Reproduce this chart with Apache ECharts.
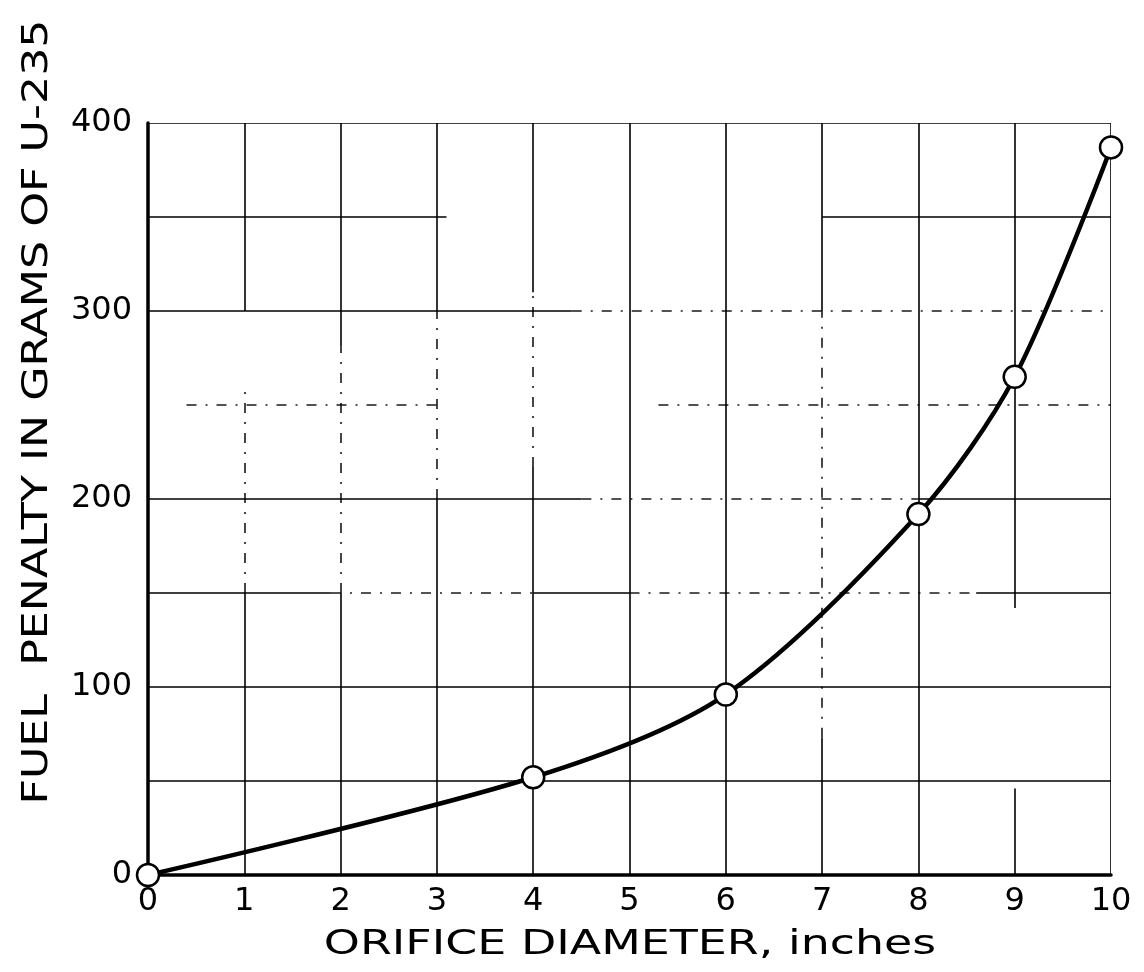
<!DOCTYPE html>
<html>
<head>
<meta charset="utf-8">
<style>
  html, body { margin: 0; padding: 0; background: #fff; }
  #chart { width: 1144px; height: 972px; }
</style>
<script src="https://cdn.jsdelivr.net/npm/echarts@6/dist/echarts.min.js"></script>
</head>
<body>
<div id="chart"></div>
<script>
// Orifice diameter (inches) and the matching fuel penalty (grams of U-235)
const diameters = [0, 4, 6, 8, 9, 10];
const penalties = [0, 52, 96, 192, 265, 387];

const xTicks = [0, 1, 2, 3, 4, 5, 6, 7, 8, 9, 10];
const yTickLabels = [0, 100, 200, 300, 400];

// Ruled grid, as drawn on the worn sheet: [value, from, to, kind]
// kind 's' = solid ink, 'd' = broken / faded ink
const verticalRules = [
  [1, 300, 400, 's'], [1, 150, 260, 'd'], [1, 0, 150, 's'],
  [2, 281, 400, 's'], [2, 150, 281, 'd'], [2, 0, 150, 's'],
  [3, 300, 400, 's'], [3, 200, 300, 'd'], [3, 0, 200, 's'],
  [4, 310, 400, 's'], [4, 217, 310, 'd'], [4, 0, 217, 's'],
  [5, 0, 400, 's'],
  [6, 0, 400, 's'],
  [7, 300, 400, 's'], [7, 73, 300, 'd'], [7, 0, 73, 's'],
  [8, 0, 400, 's'],
  [9, 142, 400, 's'], [9, 0, 46, 's'],
  [10, 0, 400, 's']
];
const horizontalRules = [
  [400, 0, 10, 's'],
  [350, 0, 3.1, 's'], [350, 7, 10, 's'],
  [300, 0, 4.4, 's'], [300, 4.4, 10, 'd'],
  [250, 0.4, 3, 'd'], [250, 5.3, 10, 'd'],
  [200, 0, 4.5, 's'], [200, 4.5, 8, 'd'], [200, 8, 10, 's'],
  [150, 0, 1.9, 's'], [150, 1.9, 4, 'd'], [150, 4, 5, 's'], [150, 5, 8.6, 'd'], [150, 8.6, 10, 's'],
  [100, 0, 10, 's'],
  [50, 0, 10, 's']
];

const font = '"DejaVu Sans", sans-serif';
const ink = '#000';

const ruleItem = (coords, kind) => ({
  coords,
  lineStyle: kind === 's'
    ? { color: ink, width: 1.6, type: 'solid', opacity: 1 }
    : { color: ink, width: 1.6, type: [10, 9, 2, 9], opacity: 0.9 }
});
const ruleData = [
  ...verticalRules.map(([x, a, b, k]) => ruleItem([[x, a], [x, b]], k)),
  ...horizontalRules.map(([y, a, b, k]) => ruleItem([[a, y], [b, y]], k))
];

const chart = echarts.init(document.getElementById('chart'), null, { renderer: 'canvas' });

chart.setOption({
  backgroundColor: '#fff',
  animation: false,
  grid: { left: 148, right: 33, top: 123, bottom: 97, containLabel: false },
  xAxis: {
    type: 'value',
    min: xTicks[0],
    max: xTicks[xTicks.length - 1],
    interval: 1,
    axisLine: { show: true, onZero: false, lineStyle: { color: ink, width: 3.5 } },
    axisTick: { show: false },
    axisLabel: {
      fontFamily: font, fontSize: 32, color: ink, margin: 11,
      formatter: v => xTicks.includes(v) ? String(v) : ''
    },
    splitLine: { show: false }
  },
  yAxis: {
    type: 'value',
    min: 0,
    max: 400,
    interval: 50,
    axisLine: { show: true, lineStyle: { color: ink, width: 3.5 } },
    axisTick: { show: false },
    axisLabel: {
      fontFamily: font, fontSize: 32, color: ink, margin: 16,
      formatter: v => yTickLabels.includes(v) ? String(v) : ''
    },
    splitLine: { show: false }
  },
  graphic: [
    {
      type: 'text',
      x: 38,
      y: 412,
      rotation: Math.PI / 2,
      scaleX: 1.23,
      style: {
        text: 'FUEL  PENALTY IN GRAMS OF U-235',
        font: '36px ' + font,
        fill: ink,
        align: 'center',
        verticalAlign: 'middle'
      }
    },
    {
      type: 'text',
      x: 630,
      y: 945,
      scaleX: 1.35,
      style: {
        text: 'ORIFICE DIAMETER, inches',
        font: '34px ' + font,
        fill: ink,
        align: 'center',
        verticalAlign: 'middle'
      }
    }
  ],
  series: [
    {
      type: 'lines',
      coordinateSystem: 'cartesian2d',
      silent: true,
      z: 1,
      data: ruleData
    },
    {
      type: 'line',
      data: diameters.map((d, i) => [d, penalties[i]]),
      smooth: 0.3,
      symbol: 'circle',
      symbolSize: 22,
      lineStyle: { color: ink, width: 4.5 },
      itemStyle: { color: '#fff', borderColor: ink, borderWidth: 2.5 },
      z: 5
    }
  ]
});
</script>
</body>
</html>
